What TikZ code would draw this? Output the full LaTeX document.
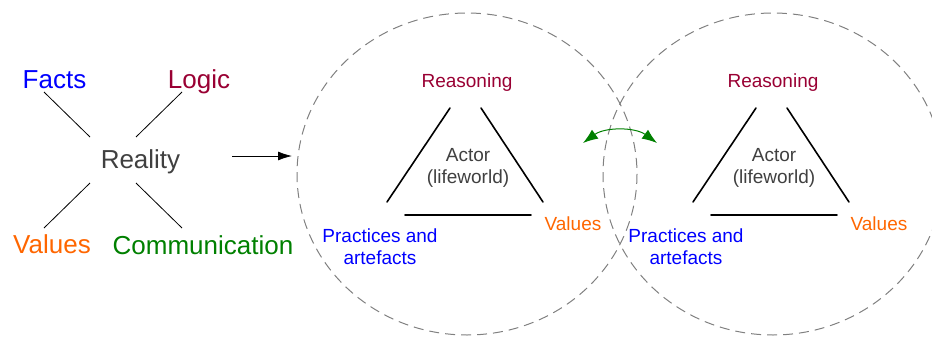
\documentclass[tikz,border=0pt]{standalone}
\usepackage{fontspec}
\setmainfont{Liberation Sans}
\usepackage{xcolor}
\usetikzlibrary{calc, arrows.meta, positioning}

\definecolor{factblue}{RGB}{0,0,255}
\definecolor{logicred}{RGB}{153,0,51}
\definecolor{valorange}{RGB}{255,102,0}
\definecolor{commgreen}{RGB}{0,128,0}
\definecolor{realgray}{RGB}{64,64,64}
\definecolor{ringgray}{RGB}{128,128,128}

\tikzset{
    bigword/.style={inner sep=0pt, anchor=base, font=\fontsize{26}{30}\selectfont},
    smallword/.style={inner sep=0pt, anchor=base, align=center, font=\fontsize{19}{22}\selectfont},
    ring/.style={draw=ringgray, line width=1pt, dash pattern=on 10pt off 6pt},
    triside/.style={line width=1.6pt, line cap=round},
}

\begin{document}
\begin{tikzpicture}[x=1pt, y=-1pt, >={Latex[length=14pt, width=9pt]}]

    \useasboundingbox (0,0) rectangle (932,340);

    % ---------------------------------------------------------------
    % 1. Reality and its four sides
    % ---------------------------------------------------------------
    \node[bigword, text=realgray] (reality) at (140.5,168) {Reality};
    \node[bigword, text=factblue] (facts) at (54.5,88) {Facts};
    \node[bigword, text=logicred] (logic) at (199,88) {Logic};
    \node[bigword, text=valorange] (values) at (52,253) {Values};
    \node[bigword, text=commgreen] (comm) at (203,254) {Communication};

    % ends of the short spokes
    \coordinate (f-end) at (44,92);   \coordinate (f-in) at (90,137);
    \coordinate (l-end) at (182,92);  \coordinate (l-in) at (136,137);
    \coordinate (v-end) at (44,228);  \coordinate (v-in) at (90,183);
    \coordinate (c-end) at (182,228); \coordinate (c-in) at (136,183);

    \draw[line width=0.8pt] (f-end) -- (f-in);
    \draw[line width=0.8pt] (l-end) -- (l-in);
    \draw[line width=0.8pt] (v-end) -- (v-in);
    \draw[line width=0.8pt] (c-end) -- (c-in);

    % ---------------------------------------------------------------
    % 2. Two actors, each in a dashed ring
    % ---------------------------------------------------------------
    \foreach \cx/\nm in {467/one, 773/two} {
        \begin{scope}[shift={(\cx,0)}]
            \draw[ring] (0,174) ellipse [x radius=170, y radius=161];
            \coordinate (ring-\nm) at (0,174);

            \node[smallword, text=logicred] (reason-\nm) at (0,87) {Reasoning};
            \node[smallword, text=realgray] (actor-\nm) at (1,183) {Actor\\(lifeworld)};
            \node[smallword, text=valorange] (val-\nm) at (106,230) {Values};
            \node[smallword, text=factblue] (prac-\nm) at (-87,264) {Practices and\\artefacts};

            % the open triangle
            \draw[triside] (-17,108) -- (-80,202);
            \draw[triside] (14,108) -- (76,202);
            \draw[triside] (-62,215) -- (64,215);
        \end{scope}
    }

    % ---------------------------------------------------------------
    % 3. Arrows
    % ---------------------------------------------------------------
    \coordinate (arr-start) at (232,156);
    \coordinate (arr-end) at (292,156);
    \draw[->, line width=0.8pt] (arr-start) -- (arr-end);

    \coordinate (swap-l) at (583,143);
    \coordinate (swap-r) at (657,143);
    \draw[<->, commgreen, line width=1pt, >={Latex[length=15pt, width=11pt]}]
        (swap-l) .. controls (605,127) and (635,127) .. (swap-r);

\end{tikzpicture}
\end{document}
